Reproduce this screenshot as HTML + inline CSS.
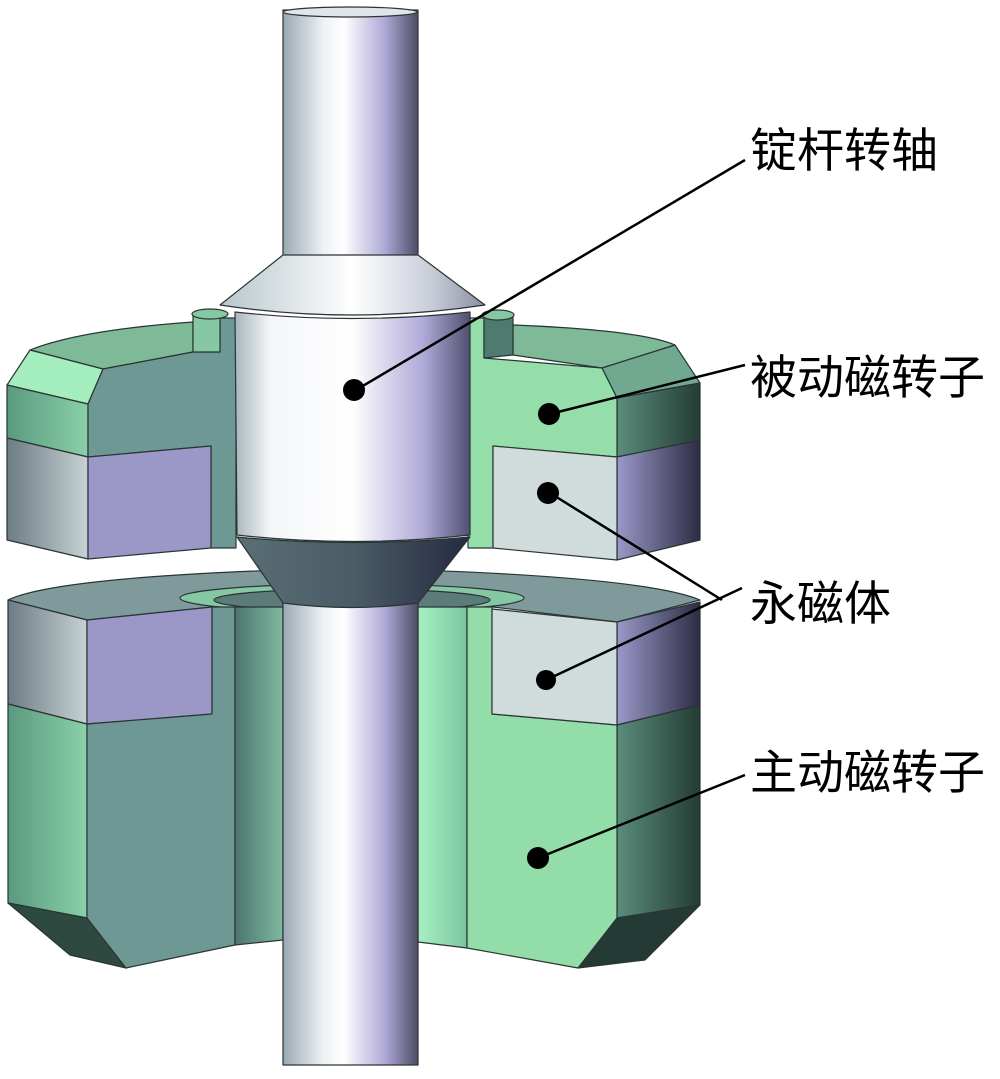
<!DOCTYPE html>
<html><head><meta charset="utf-8"><style>
html,body{margin:0;padding:0;background:#fff;}
svg{display:block;}
text{font-family:"Liberation Sans","Noto Sans CJK SC",sans-serif;font-size:47px;fill:#000;}
</style></head><body>
<svg width="1000" height="1079" viewBox="0 0 1000 1079" xmlns="http://www.w3.org/2000/svg">
<defs>
<linearGradient id="sh" x1="0" x2="1" y1="0" y2="0">
<stop offset="0" stop-color="#9aaab2"/><stop offset="0.3" stop-color="#eef2f4"/><stop offset="0.45" stop-color="#ffffff"/><stop offset="0.75" stop-color="#b0aad8"/><stop offset="1" stop-color="#4c4c66"/></linearGradient>
<linearGradient id="cyl" x1="0" x2="1"><stop offset="0" stop-color="#a8b6bc"/><stop offset="0.15" stop-color="#f4f6f8"/><stop offset="0.5" stop-color="#ffffff"/><stop offset="0.8" stop-color="#b0aad8"/><stop offset="1" stop-color="#505070"/></linearGradient>
<linearGradient id="cu" x1="0" x2="1"><stop offset="0" stop-color="#b8c6cc"/><stop offset="0.5" stop-color="#ffffff"/><stop offset="0.8" stop-color="#c8ccd8"/><stop offset="1" stop-color="#8890a0"/></linearGradient>
<linearGradient id="cl" x1="0" x2="1"><stop offset="0" stop-color="#5a6e74"/><stop offset="0.5" stop-color="#4a5c66"/><stop offset="1" stop-color="#262a40"/></linearGradient>
<linearGradient id="gl" x1="0" x2="1"><stop offset="0" stop-color="#6c7c84"/><stop offset="1" stop-color="#c6d2d4"/></linearGradient>
<linearGradient id="pr" x1="0" x2="1"><stop offset="0" stop-color="#9a98c8"/><stop offset="1" stop-color="#2c2c44"/></linearGradient>
<linearGradient id="gr" x1="0" x2="1"><stop offset="0" stop-color="#5a8c7c"/><stop offset="1" stop-color="#243c34"/></linearGradient>
<linearGradient id="gll" x1="0" x2="1"><stop offset="0" stop-color="#5a9a80"/><stop offset="1" stop-color="#8ad0a8"/></linearGradient>
<linearGradient id="gin" x1="0" x2="1"><stop offset="0" stop-color="#4c7670"/><stop offset="1" stop-color="#80b8a0"/></linearGradient>
<linearGradient id="gin2" x1="0" x2="1"><stop offset="0" stop-color="#a8f0c4"/><stop offset="1" stop-color="#7cc49c"/></linearGradient>
</defs>
<g stroke="#2a3434" stroke-width="1.2" stroke-linejoin="round">
<path d="M8,600 Q60,575 350,568 Q640,575 700,600 L617,622 L493,607 L467,607 L235,607 L212,607 L87,620 Z" fill="#7e9a9a"/>
<ellipse cx="352" cy="598" rx="172" ry="14" fill="#86c8a4"/>
<ellipse cx="352" cy="600" rx="138" ry="11" fill="#5c7c7a"/>
<path d="M8,600 L87,620 L87,724 L8,704 Z" fill="url(#gl)"/>
<path d="M8,704 L87,724 L87,918 L8,903 Z" fill="url(#gll)"/>
<path d="M8,903 L87,918 L126,968 L70,955 Z" fill="#2e4a40"/>
<path d="M87,620 L212,607 L212,714 L87,724 Z" fill="#9b97c6"/>
<path d="M87,724 L212,714 L212,607 L235,607 L235,945 L126,968 L87,918 Z" fill="#6e9894"/>
<path d="M235,607 L283,607 L283,940 L235,945 Z" fill="url(#gin)"/>
<path d="M418,607 L467,607 L467,948 L418,942 Z" fill="url(#gin2)"/>
<path d="M617,622 L700,602 L700,705 L617,725 Z" fill="url(#pr)"/>
<path d="M617,725 L700,705 L700,905 L617,918 Z" fill="url(#gr)"/>
<path d="M617,918 L700,905 L645,960 L578,968 Z" fill="#243a34"/>
<path d="M467,607 L492,607 L492,714 L617,725 L617,918 L578,968 L467,948 Z" fill="#93dea8"/>
<path d="M492,609 L617,622 L617,725 L492,714 Z" fill="#d0dcdc"/>
<rect x="283" y="600" width="135" height="465" fill="url(#sh)"/>
<path d="M30,350 Q80,330 193,322 L193,352 L103,369 Z" fill="#7fba98"/>
<path d="M7,385 L30,350 L103,369 L88,404 Z" fill="#a4eebe"/>
<path d="M7,385 L88,404 L88,457 L7,438 Z" fill="url(#gll)"/>
<path d="M7,438 L88,457 L88,559 L7,540 Z" fill="url(#gl)"/>
<path d="M88,404 L103,369 L193,352 L220,352 L220,318 L236,318 L236,548 L211,548 L211,446 L88,457 Z" fill="#6e9894"/>
<path d="M88,457 L211,446 L211,548 L88,559 Z" fill="#9b97c6"/>
<path d="M193,315 L220,312 L220,352 L193,352 Z" fill="#86c8a4"/>
<ellipse cx="210" cy="314" rx="18" ry="5" fill="#86c8a4"/>
<path d="M513,325 Q640,330 675,345 L602,368 L513,355 Z" fill="#7fba98"/>
<path d="M602,368 L675,345 L700,383 L617,398 Z" fill="#70a890"/>
<path d="M617,398 L700,383 L700,440 L617,457 Z" fill="url(#gr)"/>
<path d="M617,457 L700,440 L700,540 L617,560 Z" fill="url(#pr)"/>
<path d="M468,318 L484,318 L484,358 L602,368 L617,398 L617,457 L493,446 L493,548 L468,548 Z" fill="#95deaa"/>
<path d="M493,446 L617,457 L617,560 L493,548 Z" fill="#d0dcdc"/>
<path d="M484,315 L513,315 L513,355 L484,358 Z" fill="#4e7a70"/>
<ellipse cx="498" cy="315" rx="16" ry="5" fill="#86c8a4"/>
<rect x="283" y="10" width="135" height="250" fill="url(#sh)"/>
<ellipse cx="350" cy="12" rx="67" ry="5" fill="#dfe6ea"/>
<path d="M283,255 L418,255 L485,305 Q352,325 220,305 Z" fill="url(#cu)"/>
<path d="M235,312 Q352,325 470,312 L470,535 Q352,548 237,535 Z" fill="url(#cyl)"/>
<path d="M237,537 Q352,548 470,537 L418,603 Q352,612 283,603 Z" fill="url(#cl)"/>
</g>
<g stroke="#000" stroke-width="2.5" fill="none">
<line x1="356" y1="390" x2="745" y2="160"/>
<line x1="550" y1="414" x2="745" y2="365"/>
<line x1="550" y1="493" x2="722" y2="600"/>
<line x1="546" y1="680" x2="742" y2="588"/>
<line x1="538" y1="858" x2="745" y2="775"/>
</g>
<g fill="#000">
<circle cx="354" cy="390" r="11"/>
<circle cx="549" cy="414" r="11"/>
<circle cx="548" cy="493" r="11"/>
<circle cx="546" cy="680" r="10"/>
<circle cx="538" cy="858" r="11"/>
</g>
<text x="750" y="167">锭杆转轴</text>
<text x="750" y="394">被动磁转子</text>
<text x="750" y="620">永磁体</text>
<text x="750" y="789">主动磁转子</text>
</svg>
</body></html>
